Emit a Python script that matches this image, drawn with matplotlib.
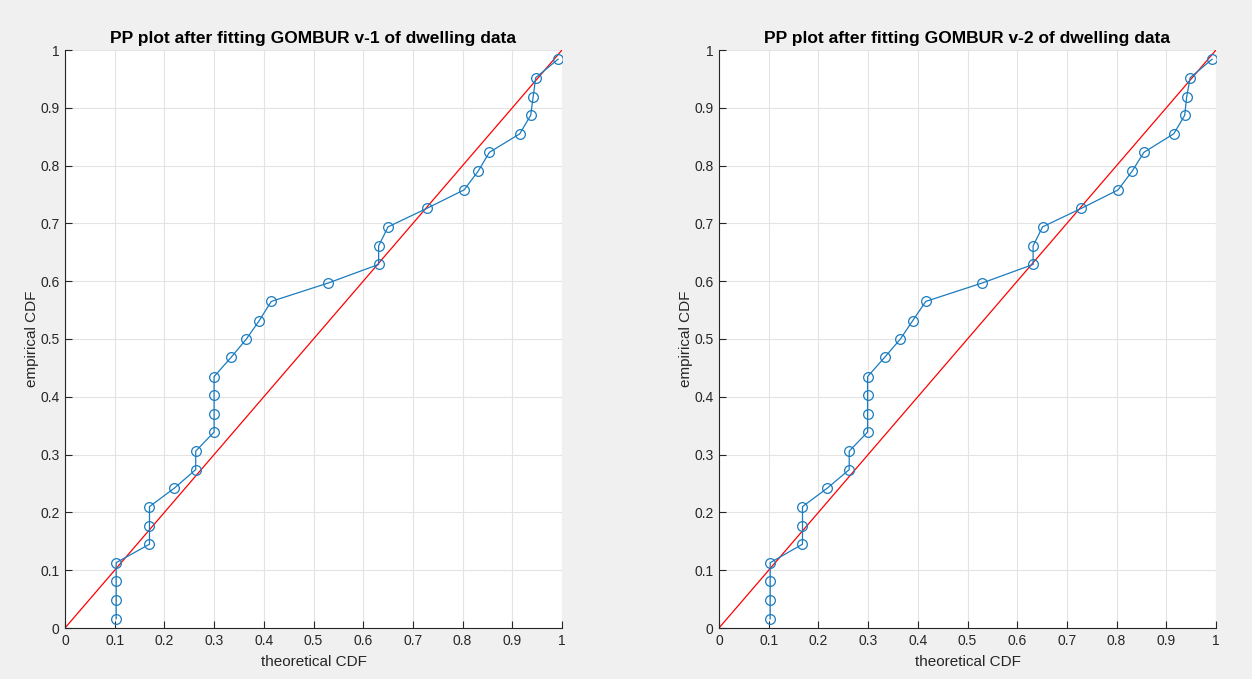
import matplotlib
matplotlib.use("Agg")
import matplotlib.pyplot as plt

plt.rcParams['font.family'] = ['Liberation Sans', 'DejaVu Sans']

# Theoretical CDF values of the fitted models, one per sorted observation
theoretical_v1 = [0.103, 0.103, 0.103, 0.103, 0.170, 0.170, 0.170, 0.220,
                  0.263, 0.263, 0.300, 0.300, 0.300, 0.300, 0.334, 0.365,
                  0.391, 0.415, 0.530, 0.631, 0.631, 0.650, 0.728, 0.803,
                  0.831, 0.854, 0.915, 0.937, 0.942, 0.947, 0.992]
theoretical_v2 = [0.103, 0.103, 0.103, 0.103, 0.168, 0.168, 0.168, 0.218,
                  0.262, 0.262, 0.299, 0.299, 0.299, 0.299, 0.333, 0.365,
                  0.390, 0.416, 0.530, 0.632, 0.632, 0.651, 0.729, 0.803,
                  0.831, 0.855, 0.915, 0.937, 0.941, 0.948, 0.992]
# Empirical CDF (plotting positions) of the 31 dwelling observations
empirical = [0.016, 0.048, 0.081, 0.113, 0.145, 0.177, 0.210, 0.242,
             0.274, 0.306, 0.339, 0.371, 0.403, 0.435, 0.468, 0.500,
             0.532, 0.565, 0.597, 0.629, 0.661, 0.694, 0.726, 0.758,
             0.790, 0.823, 0.855, 0.887, 0.919, 0.952, 0.984]

ticks = [0, 0.1, 0.2, 0.3, 0.4, 0.5, 0.6, 0.7, 0.8, 0.9, 1]
tick_labels = ['0', '0.1', '0.2', '0.3', '0.4', '0.5', '0.6', '0.7', '0.8', '0.9', '1']
titles = ['PP plot after fitting GOMBUR v-1 of dwelling data',
          'PP plot after fitting GOMBUR v-2 of dwelling data']

W, H = 1252, 679
fig = plt.figure(figsize=(W / 100, H / 100), dpi=100, facecolor='#f0f0f0')

panels = [(65, theoretical_v1), (719, theoretical_v2)]
axis_color = '#262626'
for (left_px, theo), title in zip(panels, titles):
    ax = fig.add_axes([left_px / W, (H - 628) / H, 497 / W, 578 / H])
    ax.set_facecolor('white')
    ax.plot([0, 1], [0, 1], color='#ff0000', lw=0.9, zorder=2)
    ax.plot(theo, empirical, color='#1a7cc0', lw=0.9, marker='o',
            markersize=7, markerfacecolor='none', markeredgewidth=0.9,
            zorder=3)
    ax.set_xlim(0, 1)
    ax.set_ylim(0, 1)
    ax.set_xticks(ticks)
    ax.set_xticklabels(tick_labels)
    ax.set_yticks(ticks)
    ax.set_yticklabels(tick_labels)
    ax.grid(True, color='#e3e3e3', lw=0.8, zorder=0)
    ax.set_axisbelow(True)
    for side in ('top', 'right'):
        ax.spines[side].set_visible(False)
    for side in ('left', 'bottom'):
        ax.spines[side].set_color(axis_color)
        ax.spines[side].set_linewidth(0.8)
    ax.tick_params(direction='in', length=5, width=0.8, colors=axis_color,
                   labelsize=10, labelcolor=axis_color, pad=4)
    ax.set_title(title, fontsize=12.5, fontweight='bold', color='black', pad=5)
    ax.set_xlabel('theoretical CDF', fontsize=11, color=axis_color, labelpad=5)
    ax.set_ylabel('empirical CDF', fontsize=11, color=axis_color, labelpad=1)

fig.savefig('out.png', dpi=100, facecolor=fig.get_facecolor())
